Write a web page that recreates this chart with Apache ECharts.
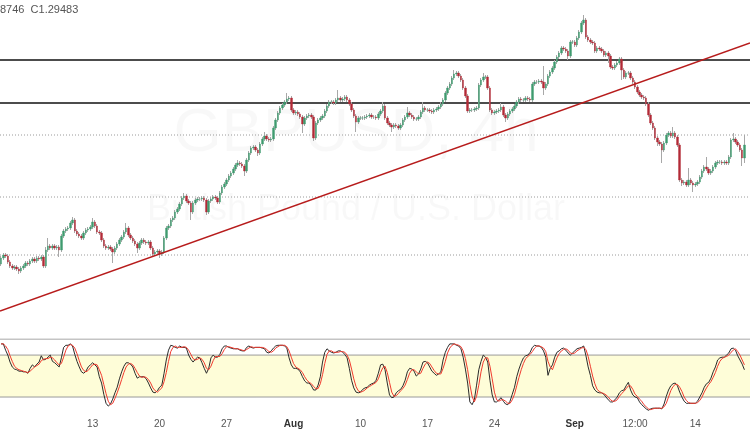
<!DOCTYPE html>
<html><head><meta charset="utf-8">
<script src="https://cdn.jsdelivr.net/npm/echarts@6/dist/echarts.min.js"></script>
<style>html,body{margin:0;padding:0;background:#fff;overflow:hidden}#c{width:750px;height:430px}</style>
</head><body><div id="c"></div>
<script>
// ---- data (GBP/USD, 4h) ----
const firstOpen = 1.2494;
const closes = [
1.2518,1.2530,1.2526,1.2502,1.2486,1.2478,1.2482,1.2474,1.2466,1.2478,
1.2486,1.2498,1.2494,1.2506,1.2514,1.2506,1.2518,1.2514,1.2522,1.2486,
1.2550,1.2566,1.2558,1.2566,1.2558,1.2562,1.2550,1.2606,1.2626,1.2634,
1.2638,1.2658,1.2670,1.2626,1.2614,1.2606,1.2598,1.2618,1.2630,1.2634,
1.2642,1.2662,1.2646,1.2622,1.2618,1.2590,1.2566,1.2558,1.2562,1.2554,
1.2542,1.2558,1.2574,1.2590,1.2602,1.2622,1.2638,1.2610,1.2598,1.2586,
1.2574,1.2558,1.2578,1.2590,1.2582,1.2578,1.2582,1.2558,1.2534,1.2542,
1.2546,1.2534,1.2542,1.2598,1.2638,1.2646,1.2670,1.2678,1.2702,1.2714,
1.2734,1.2758,1.2766,1.2746,1.2738,1.2702,1.2738,1.2750,1.2754,1.2754,
1.2758,1.2750,1.2702,1.2746,1.2754,1.2762,1.2758,1.2742,1.2778,1.2802,
1.2814,1.2830,1.2846,1.2858,1.2874,1.2890,1.2898,1.2894,1.2886,1.2866,
1.2910,1.2938,1.2958,1.2962,1.2950,1.2938,1.2974,1.2994,1.3006,1.2994,
1.2990,1.2994,1.3038,1.3070,1.3098,1.3118,1.3130,1.3142,1.3154,1.3158,
1.3110,1.3098,1.3102,1.3094,1.3082,1.3054,1.3078,1.3086,1.3090,1.3082,
1.2998,1.3058,1.3070,1.3078,1.3086,1.3106,1.3126,1.3142,1.3142,1.3138,
1.3150,1.3158,1.3150,1.3154,1.3162,1.3150,1.3134,1.3110,1.3086,1.3062,
1.3078,1.3078,1.3078,1.3082,1.3086,1.3090,1.3082,1.3082,1.3078,1.3094,
1.3106,1.3126,1.3078,1.3058,1.3050,1.3042,1.3050,1.3046,1.3038,1.3050,
1.3070,1.3082,1.3098,1.3090,1.3082,1.3074,1.3074,1.3082,1.3102,1.3118,
1.3110,1.3110,1.3106,1.3102,1.3110,1.3114,1.3122,1.3134,1.3150,1.3178,
1.3198,1.3214,1.3238,1.3254,1.3258,1.3246,1.3230,1.3198,1.3166,1.3106,
1.3110,1.3110,1.3114,1.3118,1.3210,1.3230,1.3242,1.3242,1.3198,1.3110,
1.3098,1.3102,1.3106,1.3110,1.3122,1.3090,1.3078,1.3094,1.3106,1.3114,
1.3126,1.3142,1.3154,1.3150,1.3150,1.3158,1.3154,1.3150,1.3214,1.3222,
1.3222,1.3226,1.3222,1.3198,1.3214,1.3246,1.3262,1.3278,1.3302,1.3322,
1.3338,1.3358,1.3354,1.3346,1.3326,1.3382,1.3382,1.3370,1.3398,1.3422,
1.3458,1.3470,1.3402,1.3390,1.3382,1.3378,1.3346,1.3358,1.3354,1.3346,
1.3330,1.3338,1.3326,1.3282,1.3278,1.3290,1.3298,1.3314,1.3270,1.3242,
1.3258,1.3258,1.3238,1.3222,1.3202,1.3182,1.3170,1.3162,1.3158,1.3134,
1.3090,1.3058,1.3038,1.2998,1.2982,1.2974,1.2950,1.2978,1.3010,1.3018,
1.3006,1.3018,1.3002,1.2970,1.2830,1.2818,1.2822,1.2810,1.2830,1.2818,
1.2810,1.2814,1.2822,1.2842,1.2866,1.2882,1.2874,1.2858,1.2866,1.2882,
1.2898,1.2902,1.2902,1.2898,1.2902,1.2898,1.2922,1.2990,1.2994,1.2982,
1.2970,1.2950,1.2918,1.2970];
const highs = [
1.2526,1.2538,1.2538,1.2534,1.2510,1.2494,1.2490,1.2490,1.2482,1.2486,
1.2494,1.2506,1.2506,1.2514,1.2522,1.2522,1.2526,1.2526,1.2530,1.2530,
1.2562,1.2598,1.2574,1.2574,1.2574,1.2570,1.2570,1.2614,1.2634,1.2642,
1.2646,1.2666,1.2682,1.2678,1.2634,1.2622,1.2614,1.2626,1.2638,1.2642,
1.2650,1.2678,1.2670,1.2654,1.2630,1.2626,1.2598,1.2574,1.2570,1.2570,
1.2562,1.2566,1.2582,1.2598,1.2610,1.2630,1.2658,1.2646,1.2618,1.2606,
1.2594,1.2582,1.2586,1.2598,1.2598,1.2590,1.2590,1.2590,1.2566,1.2550,
1.2554,1.2554,1.2550,1.2606,1.2646,1.2654,1.2678,1.2686,1.2710,1.2722,
1.2742,1.2766,1.2778,1.2774,1.2754,1.2746,1.2746,1.2758,1.2762,1.2762,
1.2766,1.2766,1.2758,1.2754,1.2762,1.2770,1.2770,1.2766,1.2786,1.2810,
1.2822,1.2838,1.2854,1.2866,1.2882,1.2898,1.2910,1.2906,1.2902,1.2894,
1.2918,1.2946,1.2966,1.2970,1.2970,1.2958,1.2982,1.3002,1.3022,1.3014,
1.3002,1.3002,1.3046,1.3078,1.3106,1.3126,1.3138,1.3150,1.3178,1.3166,
1.3166,1.3118,1.3110,1.3110,1.3102,1.3090,1.3086,1.3094,1.3098,1.3098,
1.3090,1.3066,1.3078,1.3086,1.3094,1.3114,1.3134,1.3150,1.3150,1.3150,
1.3158,1.3190,1.3166,1.3162,1.3170,1.3170,1.3158,1.3142,1.3118,1.3094,
1.3086,1.3086,1.3086,1.3090,1.3094,1.3098,1.3098,1.3090,1.3090,1.3102,
1.3114,1.3142,1.3134,1.3086,1.3066,1.3058,1.3058,1.3058,1.3054,1.3058,
1.3078,1.3090,1.3122,1.3106,1.3098,1.3090,1.3082,1.3090,1.3110,1.3142,
1.3126,1.3118,1.3118,1.3114,1.3118,1.3122,1.3130,1.3142,1.3158,1.3186,
1.3206,1.3222,1.3246,1.3270,1.3266,1.3266,1.3254,1.3238,1.3206,1.3174,
1.3118,1.3118,1.3122,1.3126,1.3218,1.3238,1.3258,1.3250,1.3250,1.3206,
1.3118,1.3110,1.3114,1.3118,1.3138,1.3130,1.3098,1.3102,1.3114,1.3122,
1.3134,1.3150,1.3162,1.3162,1.3158,1.3166,1.3166,1.3162,1.3222,1.3230,
1.3230,1.3234,1.3234,1.3286,1.3222,1.3254,1.3270,1.3286,1.3310,1.3330,
1.3346,1.3366,1.3366,1.3362,1.3354,1.3390,1.3390,1.3390,1.3406,1.3430,
1.3466,1.3490,1.3478,1.3410,1.3398,1.3390,1.3386,1.3366,1.3366,1.3362,
1.3354,1.3346,1.3346,1.3334,1.3290,1.3298,1.3306,1.3322,1.3322,1.3278,
1.3266,1.3266,1.3266,1.3246,1.3230,1.3210,1.3190,1.3178,1.3170,1.3166,
1.3142,1.3098,1.3066,1.3046,1.3006,1.2990,1.2982,1.2986,1.3018,1.3026,
1.3026,1.3042,1.3026,1.3010,1.2978,1.2838,1.2830,1.2830,1.2878,1.2838,
1.2826,1.2822,1.2830,1.2850,1.2874,1.2890,1.2922,1.2882,1.2874,1.2890,
1.2906,1.2910,1.2910,1.2910,1.2910,1.2910,1.2930,1.2998,1.3018,1.3002,
1.2990,1.2978,1.2958,1.3010];
const lows = [
1.2486,1.2510,1.2518,1.2494,1.2478,1.2470,1.2470,1.2466,1.2454,1.2458,
1.2470,1.2478,1.2486,1.2486,1.2498,1.2498,1.2498,1.2506,1.2506,1.2478,
1.2478,1.2542,1.2550,1.2550,1.2550,1.2550,1.2522,1.2542,1.2598,1.2618,
1.2626,1.2630,1.2650,1.2618,1.2606,1.2598,1.2590,1.2590,1.2610,1.2622,
1.2626,1.2634,1.2638,1.2614,1.2610,1.2582,1.2558,1.2550,1.2550,1.2546,
1.2498,1.2534,1.2550,1.2566,1.2582,1.2594,1.2614,1.2602,1.2590,1.2578,
1.2566,1.2538,1.2550,1.2570,1.2574,1.2570,1.2570,1.2550,1.2526,1.2526,
1.2534,1.2518,1.2526,1.2534,1.2590,1.2630,1.2638,1.2662,1.2670,1.2694,
1.2706,1.2726,1.2750,1.2738,1.2730,1.2670,1.2694,1.2730,1.2742,1.2746,
1.2746,1.2742,1.2690,1.2694,1.2738,1.2746,1.2750,1.2734,1.2734,1.2770,
1.2794,1.2806,1.2822,1.2838,1.2850,1.2866,1.2882,1.2886,1.2878,1.2846,
1.2858,1.2902,1.2930,1.2950,1.2942,1.2926,1.2930,1.2966,1.2986,1.2986,
1.2982,1.2982,1.2986,1.3030,1.3062,1.3090,1.3110,1.3122,1.3134,1.3146,
1.3102,1.3090,1.3090,1.3086,1.3074,1.3018,1.3046,1.3070,1.3078,1.3074,
1.2986,1.2990,1.3050,1.3062,1.3070,1.3078,1.3098,1.3118,1.3134,1.3130,
1.3130,1.3142,1.3142,1.3142,1.3146,1.3142,1.3126,1.3102,1.3078,1.3022,
1.3054,1.3070,1.3070,1.3070,1.3074,1.3078,1.3074,1.3074,1.3070,1.3070,
1.3086,1.3098,1.3070,1.3050,1.3042,1.3022,1.3034,1.3038,1.3030,1.3030,
1.3042,1.3062,1.3074,1.3082,1.3074,1.3066,1.3066,1.3066,1.3074,1.3094,
1.3102,1.3102,1.3098,1.3094,1.3094,1.3102,1.3106,1.3114,1.3126,1.3142,
1.3170,1.3190,1.3206,1.3230,1.3246,1.3238,1.3222,1.3190,1.3158,1.3098,
1.3098,1.3102,1.3102,1.3106,1.3110,1.3202,1.3222,1.3234,1.3190,1.3102,
1.3090,1.3090,1.3094,1.3098,1.3102,1.3082,1.3062,1.3070,1.3086,1.3098,
1.3106,1.3118,1.3134,1.3142,1.3142,1.3142,1.3146,1.3142,1.3142,1.3206,
1.3214,1.3214,1.3214,1.3170,1.3190,1.3206,1.3238,1.3254,1.3270,1.3294,
1.3314,1.3330,1.3346,1.3338,1.3310,1.3318,1.3374,1.3362,1.3362,1.3390,
1.3414,1.3450,1.3394,1.3382,1.3374,1.3370,1.3338,1.3338,1.3346,1.3338,
1.3322,1.3322,1.3298,1.3274,1.3270,1.3270,1.3282,1.3290,1.3230,1.3234,
1.3234,1.3250,1.3230,1.3214,1.3194,1.3174,1.3162,1.3154,1.3150,1.3126,
1.3082,1.3050,1.3030,1.2990,1.2966,1.2966,1.2898,1.2942,1.2970,1.3002,
1.2998,1.2998,1.2994,1.2962,1.2822,1.2806,1.2810,1.2802,1.2802,1.2810,
1.2782,1.2802,1.2806,1.2814,1.2834,1.2858,1.2866,1.2850,1.2850,1.2858,
1.2874,1.2890,1.2894,1.2890,1.2890,1.2890,1.2890,1.2914,1.2982,1.2974,
1.2962,1.2942,1.2886,1.2898];
// Stochastic %K (black) and %D (red)
const stochK = [
96,96,87,80,70,63,60,59,57,57, 56,56,54,61,66,63,67,70,79,73,
74,77,80,71,69,66,63,76,91,94, 94,96,93,81,71,63,56,54,57,63,
66,69,66,63,49,40,24,11,7,10, 17,26,34,46,56,64,69,69,67,63,
54,47,49,49,49,46,40,33,27,26, 29,34,37,54,73,87,94,93,91,90,
93,91,91,90,80,74,70,74,77,76, 69,61,54,61,76,80,77,77,81,89,
93,93,91,90,89,89,89,87,86,86, 91,93,91,90,91,91,91,90,89,84,
83,86,90,93,94,94,94,93,90,76, 66,61,61,60,56,49,43,40,40,36,
30,30,37,49,70,84,89,86,84,83, 84,86,86,84,81,76,61,44,33,27,
26,27,31,33,34,37,39,40,44,54, 66,67,59,40,23,19,20,26,29,31,
36,44,56,61,60,57,50,53,60,70, 71,69,63,57,54,51,53,56,73,84,
91,96,96,96,94,93,89,77,60,40, 13,9,16,37,59,71,80,77,70,44,
23,13,13,16,19,14,10,9,14,24, 34,49,60,69,76,79,80,84,91,94,
93,93,91,86,77,51,61,66,77,84, 86,89,90,87,83,80,83,86,89,90,
91,93,79,63,51,36,30,27,26,26, 24,20,16,13,13,16,20,26,29,30,
36,41,30,23,20,19,13,9,6,3, 1,3,4,4,4,4,3,10,21,30,
36,39,40,36,27,20,14,11,11,11, 11,11,14,20,26,34,39,41,47,56,
63,73,76,77,77,80,83,89,90,87, 79,73,67,59];
const stochD = [
96,96,93,88,79,71,64,61,59,58, 57,56,55,57,60,63,65,67,72,74,
75,75,77,76,73,69,66,68,77,87, 93,95,94,90,82,72,63,58,56,58,
62,66,67,66,59,51,38,25,14,9, 11,18,26,35,45,55,63,67,68,66,
61,55,50,48,49,48,45,40,33,29, 27,30,33,42,55,71,85,91,93,91,
91,91,92,91,87,81,75,73,74,76, 74,69,61,59,64,72,78,78,78,82,
88,92,92,91,90,89,89,88,87,86, 88,90,92,91,91,91,91,91,90,88,
85,84,86,90,92,94,94,94,92,86, 77,68,63,61,59,55,49,44,41,39,
35,32,32,39,52,68,81,86,86,84, 84,84,85,85,84,80,73,60,46,35,
29,27,28,30,33,35,37,39,41,46, 55,62,64,55,41,27,21,22,25,29,
32,37,45,54,59,59,56,53,54,61, 67,70,68,63,58,54,53,53,61,71,
83,90,94,96,95,94,92,86,75,59, 38,21,13,21,37,56,70,76,76,64,
46,27,16,14,16,16,14,11,11,16, 24,36,48,59,68,75,78,81,85,90,
93,93,92,90,85,71,63,59,68,76, 82,86,88,89,87,83,82,83,86,88,
90,91,88,78,64,50,39,31,28,26, 25,23,20,16,14,14,16,21,25,28,
32,36,36,31,24,21,17,14,9,6, 3,2,3,4,4,4,4,6,11,20,
29,35,38,38,34,28,20,15,12,11, 11,11,12,15,20,27,33,38,42,48,
55,64,71,75,77,78,80,84,87,89, 85,80,73,66];
// x-axis tick labels
const tickStamps = ['2020-07-13 00:00','2020-07-20 00:00','2020-07-27 00:00','2020-08-03 00:00','2020-08-10 00:00',
  '2020-08-17 00:00','2020-08-24 00:00','2020-09-01 00:00','2020-09-07 12:00','2020-09-14 00:00'];
const tickLabels = ['13','20','27','Aug','10','17','24','Sep','12:00','14'];
const monthLabels = ['Aug','Sep'];
// drawn lines (price levels)
const levelLines = [1.3310, 1.3138];
const dottedLines = [1.3010, 1.2762, 1.2530];
const trendLine = [[0, 1.2306], [336, 1.3378]];
const stochBands = [20, 80];
const stochTop = 103;
const headerText = '8746  C1.29483';

// ---- categories: 4h bars, weekdays only ----
const categories = [];
(function () {
  let t = Date.UTC(2020, 6, 2, 4);
  const p = n => (n < 10 ? '0' : '') + n;
  while (categories.length < 336) {
    const d = new Date(t);
    const wd = d.getUTCDay();
    if (wd !== 0 && wd !== 6) {
      categories.push(d.getUTCFullYear() + '-' + p(d.getUTCMonth() + 1) + '-' + p(d.getUTCDate()) + ' ' + p(d.getUTCHours()) + ':00');
    }
    t += 4 * 3600 * 1000;
  }
})();
const tickMap = {};
tickStamps.forEach((s, i) => { tickMap[s] = tickLabels[i]; });

const opens = [firstOpen].concat(closes.slice(0, -1));
const wickData = closes.map((c, i) => [opens[i], c, lows[i], highs[i]]);
const bodyData = closes.map((c, i) => [opens[i], c, Math.min(opens[i], c), Math.max(opens[i], c)]);

const UP = '#3f9b6f', DOWN = '#b22a37', WICK = '#a8a8a8';
const hLine = (v, style, name) => ({
  type: 'line', name: name, xAxisIndex: 2, yAxisIndex: 0, data: [[0, v], [336, v]],
  symbol: 'none', silent: true, z: 2, lineStyle: style
});
const chart = echarts.init(document.getElementById('c'), null, { renderer: 'canvas' });
chart.setOption({
  animation: false,
  backgroundColor: '#ffffff',
  grid: [
    { left: 0, right: 0, top: 0, height: 335 },
    { left: 0, right: 0, top: 339, height: 72 }
  ],
  xAxis: [
    { type: 'category', gridIndex: 0, data: categories, boundaryGap: true, show: false },
    { type: 'category', gridIndex: 1, data: categories, boundaryGap: true,
      axisLine: { show: false }, axisTick: { show: false }, splitLine: { show: false },
      axisLabel: {
        interval: (i, v) => tickMap[v] !== undefined,
        formatter: v => monthLabels.indexOf(tickMap[v]) >= 0 ? '{m|' + tickMap[v] + '}' : tickMap[v],
        color: '#555', fontSize: 10, fontFamily: 'Liberation Sans', margin: 8,
        rich: { m: { fontWeight: 'bold', color: '#333', fontSize: 10, fontFamily: 'Liberation Sans' } }
      } },
    { type: 'value', gridIndex: 0, min: 0, max: 336, show: false },
    { type: 'value', gridIndex: 1, min: 0, max: 336, show: false }
  ],
  yAxis: [
    { type: 'value', gridIndex: 0, min: 1.2210, max: 1.3550, show: false },
    { type: 'value', gridIndex: 1, min: 0, max: stochTop, show: false }
  ],
  graphic: [
    { type: 'text', x: 356, y: 134, z: 0, silent: true,
      style: { text: 'GBPUSD, 4h', fill: 'rgba(0,0,0,0.028)', font: '62px "Liberation Sans"', textAlign: 'center', textVerticalAlign: 'middle' } },
    { type: 'text', x: 356, y: 210, z: 0, silent: true,
      style: { text: 'British Pound / U.S. Dollar', fill: 'rgba(0,0,0,0.028)', font: '36px "Liberation Sans"', textAlign: 'center', textVerticalAlign: 'middle' } },
    { type: 'text', x: 0, y: 4, z: 100, silent: true,
      style: { text: headerText, fill: '#555', font: '11px "Liberation Sans"' } }
  ],
  series: [
    ...dottedLines.map((v, i) => hLine(v, { color: '#9a9a9a', type: [1, 2], width: 1 }, 'dot' + i)),
    ...levelLines.map((v, i) => hLine(v, { color: '#111', type: 'solid', width: 1.6 }, 'level' + i)),
    { type: 'candlestick', name: 'wick', xAxisIndex: 0, yAxisIndex: 0, data: wickData, barWidth: 1, z: 3,
      itemStyle: { color: WICK, color0: WICK, borderColor: WICK, borderColor0: WICK, borderWidth: 1 } },
    { type: 'candlestick', name: 'body', xAxisIndex: 0, yAxisIndex: 0, data: bodyData, barWidth: 2, z: 4,
      itemStyle: { color: UP, color0: DOWN, borderColor: UP, borderColor0: DOWN, borderWidth: 0.4 } },
    { type: 'line', name: 'trend', xAxisIndex: 2, yAxisIndex: 0, data: trendLine, symbol: 'none', z: 5,
      lineStyle: { color: '#b71c1c', width: 1.5 } },
    { type: 'line', name: 'band', xAxisIndex: 3, yAxisIndex: 1, data: [[0, stochBands[1]], [336, stochBands[1]]],
      symbol: 'none', silent: true, z: 1, lineStyle: { color: '#9a9a9a', width: 1 },
      areaStyle: { color: '#fdfcc8', origin: stochBands[0] } },
    { type: 'line', name: 'band20', xAxisIndex: 3, yAxisIndex: 1, data: [[0, stochBands[0]], [336, stochBands[0]]],
      symbol: 'none', silent: true, z: 2, lineStyle: { color: '#9a9a9a', width: 1 } },
    { type: 'line', name: 'top', xAxisIndex: 3, yAxisIndex: 1, data: [[0, stochTop], [336, stochTop]],
      symbol: 'none', silent: true, z: 2, lineStyle: { color: '#8a8a8a', width: 1 } },
    { type: 'line', name: '%K', xAxisIndex: 1, yAxisIndex: 1, data: stochK, symbol: 'none', z: 4,
      lineStyle: { color: '#2b2b2b', width: 1 } },
    { type: 'line', name: '%D', xAxisIndex: 1, yAxisIndex: 1, data: stochD, symbol: 'none', z: 5,
      lineStyle: { color: '#f03a2e', width: 1 } }
  ]
});
</script>
</body></html>
